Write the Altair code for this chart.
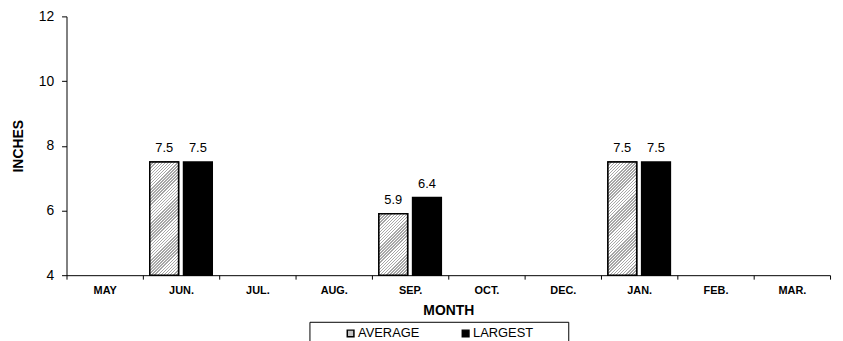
import math
import altair as alt
import pandas as pd

months = ["MAY", "JUN.", "JUL.", "AUG.", "SEP.", "OCT.", "DEC.", "JAN.", "FEB.", "MAR."]
average = [None, 7.5, None, None, 5.9, None, None, 7.5, None, None]
largest = [None, 7.5, None, None, 6.4, None, None, 7.5, None, None]
series = ["AVERAGE", "LARGEST"]
y_ticks = [4, 6, 8, 10, 12]

rows = []
for m, a, l in zip(months, average, largest):
    if a is not None:
        rows.append({"month": m, "series": "AVERAGE", "value": a})
    if l is not None:
        rows.append({"month": m, "series": "LARGEST", "value": l})
df = pd.DataFrame(rows)

FONT = "Liberation Sans"
PLOT_W, PLOT_H = 770, 261
Y_MIN, Y_MAX = 4, 12
PAD_IN, PAD_OUT = 0.147, 0.206

# bar geometry derived from scale settings (for hatch gradient orientation)
step = PLOT_W / len(months)
sub_step = step / (len(series) - PAD_IN + 2 * PAD_OUT)
bar_w = sub_step * (1 - PAD_IN)


def hatch(w, h, period=2.2, c1="#a6a6a6", c2="#ffffff"):
    r = w / h
    gy = (1 + r) / (1 + r * r)
    gx = r * gy
    span = (w + h) / math.sqrt(2)
    n = span / period
    stops = []
    k = 0
    while k / n < 1:
        a = k / n
        b = min((k + 0.5) / n, 1)
        c = min((k + 1) / n, 1)
        stops += [{"offset": a, "color": c1}, {"offset": b, "color": c1},
                  {"offset": b, "color": c2}, {"offset": c, "color": c2}]
        k += 1
    return {"gradient": "linear", "x1": 0, "y1": 0, "x2": gx, "y2": gy, "stops": stops}


avg_vals = sorted({v for v in average if v is not None})
hatch_fill = {
    "condition": [
        {"test": f"datum.value == {v}", "value": hatch(bar_w, (v - Y_MIN) / (Y_MAX - Y_MIN) * PLOT_H)}
        for v in avg_vals
    ],
    "value": "#bdbdbd",
}

x_enc = alt.X(
    "month:N",
    scale=alt.Scale(domain=months, paddingInner=0, paddingOuter=0),
    axis=alt.Axis(
        title="MONTH", labelAngle=0, labelFontWeight="bold", labelFontSize=11,
        labelColor="black", tickBand="extent", tickSize=4, tickColor="black",
        domainColor="black", labelPadding=5, titleFontSize=14, titleFontWeight="bold",
        titleColor="black", titlePadding=9,
    ),
)
xo_enc = alt.XOffset(
    "series:N", scale=alt.Scale(domain=series, paddingInner=PAD_IN, paddingOuter=PAD_OUT)
)
y_enc = alt.Y(
    "value:Q",
    scale=alt.Scale(domain=[Y_MIN, Y_MAX], nice=False, zero=False),
    axis=alt.Axis(
        title="INCHES", values=y_ticks, grid=False, tickSize=5, tickColor="black",
        domainColor="black", labelFontSize=14, labelColor="black", labelPadding=8,
        titleFontSize=14, titleFontWeight="bold", titleColor="black", titlePadding=13,
    ),
)

blank = "\u2800" * 3
legend = alt.Legend(
    orient="none", legendX=245, legendY=308, direction="horizontal",
    title=blank, titleOrient="left", titleFontSize=13, titlePadding=0,
    padding=5, strokeColor="black", labelFontSize=13, labelColor="black",
    symbolType="square", symbolSize=45, symbolStrokeColor="black",
    symbolStrokeWidth=1.5, labelOffset=1, columnPadding=40,
    labelExpr=f"datum.label == 'LARGEST' ? datum.label + '{blank}' : datum.label",
)

base = alt.Chart(df)

bars = base.mark_bar(stroke="black", strokeWidth=1.5).encode(
    x=x_enc, xOffset=xo_enc, y=y_enc, y2=alt.datum(Y_MIN),
    fill=alt.Fill("series:N", scale=alt.Scale(domain=series, range=["#c4c4c4", "black"]), legend=legend),
)

hatched = base.transform_filter("datum.series == 'AVERAGE'").mark_bar(
    stroke="black", strokeWidth=1.5
).encode(
    x=x_enc, xOffset=xo_enc, y=y_enc, y2=alt.datum(Y_MIN), fill=hatch_fill,
)

labels = base.mark_text(dy=-10, baseline="alphabetic", fontSize=13, color="black").encode(
    x=x_enc, xOffset=xo_enc, y=y_enc, text=alt.Text("value:Q", format=".1f"),
)

chart = alt.layer(bars, hatched, labels).properties(
    width=PLOT_W, height=PLOT_H,
    autosize=alt.AutoSizeParams(type="none"),
    padding={"left": 59, "top": 7, "right": 5, "bottom": 75},
).configure(font=FONT).configure_view(stroke=None)

chart.save("out.html", embed_options={"renderer": "svg", "actions": False})
